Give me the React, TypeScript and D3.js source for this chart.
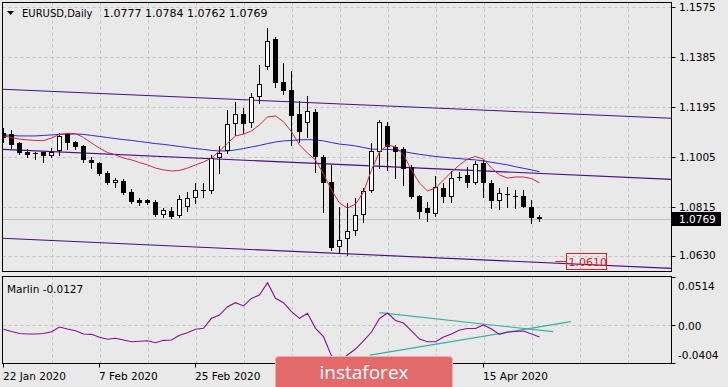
import { useMemo } from "react";
import * as d3 from "d3";

const WIDTH = 728;
const HEIGHT = 387;
const LEFT = 2.5;
const RIGHT = 671.5;
const MAIN_TOP = 2.5;
const MAIN_BOTTOM = 271.5;
const SUB_TOP = 276.5;
const SUB_BOTTOM = 363.5;
const FONT = "'DejaVu Sans', Verdana, sans-serif";

// EURUSD daily bars, 22 Jan 2020 .. 24 Apr 2020
const opens = [
  1.1096, 1.1092, 1.1057, 1.1025, 1.102, 1.1023, 1.1009, 1.1029, 1.1092, 1.1061,
  1.1047, 1.0994, 1.0981, 1.0944, 1.0906, 1.0914, 1.0873, 1.0842, 1.0842, 1.0835,
  1.0785, 1.08, 1.0781, 1.0814, 1.0848, 1.0876, 1.0877, 1.1, 1.1029, 1.1129,
  1.1167, 1.1133, 1.1234, 1.1348, 1.1453, 1.1291, 1.126, 1.1168, 1.1133, 1.1177,
  1.1006, 1.0909, 1.0662, 1.0692, 1.0724, 1.0785, 1.0877, 1.1025, 1.1121, 1.1044,
  1.1034, 1.0968, 1.0857, 1.0812, 1.0788, 1.0886, 1.0852, 1.093, 1.0937, 1.0907,
  1.0981, 1.0907, 1.0839, 1.0866, 1.0858, 1.0857, 1.0816, 1.0777,
];
const highs = [
  1.1115, 1.1108, 1.1063, 1.1035, 1.1025, 1.1025, 1.1039, 1.1095, 1.1097, 1.1067,
  1.1051, 1.1006, 1.0987, 1.0953, 1.0927, 1.0921, 1.0882, 1.0848, 1.0845, 1.0842,
  1.081, 1.0816, 1.0861, 1.0873, 1.0905, 1.0905, 1.1013, 1.1047, 1.1184, 1.1215,
  1.119, 1.1247, 1.1355, 1.1494, 1.146, 1.1363, 1.1333, 1.1218, 1.1237, 1.1186,
  1.1013, 1.0975, 1.0816, 1.0829, 1.0848, 1.0886, 1.1057, 1.1146, 1.1139, 1.1051,
  1.1044, 1.0975, 1.0861, 1.0835, 1.0933, 1.0907, 1.0953, 1.0949, 1.0968, 1.0991,
  1.0994, 1.0918, 1.0886, 1.089, 1.088, 1.088, 1.0842, 1.0784,
];
const lows = [
  1.1062, 1.1039, 1.1016, 1.1006, 1.0998, 1.0987, 1.1006, 1.1013, 1.1034, 1.1034,
  1.0987, 1.0962, 1.0937, 1.0902, 1.0891, 1.0864, 1.0829, 1.0823, 1.0826, 1.0781,
  1.0778, 1.0774, 1.0778, 1.0801, 1.0829, 1.0854, 1.0868, 1.0945, 1.1021, 1.1089,
  1.1095, 1.1118, 1.1209, 1.1338, 1.1272, 1.1244, 1.1051, 1.1063, 1.1082, 1.0949,
  1.0797, 1.0652, 1.0639, 1.0633, 1.0709, 1.0759, 1.0871, 1.0963, 1.0956, 1.0924,
  1.0899, 1.0848, 1.0772, 1.0763, 1.0781, 1.0835, 1.0835, 1.0918, 1.089, 1.0902,
  1.0852, 1.081, 1.0808, 1.0816, 1.081, 1.0814, 1.0756, 1.0762,
];
const closes = [
  1.1077, 1.1051, 1.1021, 1.1013, 1.1016, 1.1009, 1.1025, 1.1085, 1.1057, 1.1042,
  1.0994, 1.0981, 1.094, 1.0907, 1.0916, 1.0869, 1.0835, 1.0829, 1.0831, 1.0785,
  1.0804, 1.0778, 1.0844, 1.0848, 1.088, 1.0879, 1.1, 1.1021, 1.1129, 1.1167,
  1.1129, 1.1234, 1.1283, 1.1447, 1.1287, 1.1256, 1.1161, 1.1101, 1.118, 1.1004,
  1.0907, 1.0658, 1.069, 1.0724, 1.0785, 1.0877, 1.1028, 1.1139, 1.1044, 1.1025,
  1.0958, 1.0852, 1.0797, 1.0791, 1.089, 1.0852, 1.0924, 1.0929, 1.0907, 1.0978,
  1.0907, 1.0839, 1.0869, 1.0863, 1.0856, 1.0816, 1.0772, 1.0769,
];

const fastMa = [
  1.1085, 1.1079, 1.1073, 1.107, 1.1068, 1.1067, 1.1077, 1.1091, 1.1095, 1.1094,
  1.1079, 1.1058, 1.1039, 1.1022, 1.1013, 1.1001, 1.0994, 1.0984, 1.0975, 1.0963,
  1.0956, 1.0952, 1.0954, 1.0963, 1.0975, 1.0986, 1.1001, 1.1028, 1.1057, 1.1085,
  1.1092, 1.1104, 1.1127, 1.1157, 1.1161, 1.1139, 1.1101, 1.1051, 1.102, 1.0994,
  1.094, 1.088, 1.083, 1.0811, 1.0826, 1.0872, 1.0956, 1.1024, 1.1051, 1.1043,
  1.1013, 1.0956, 1.0906, 1.0876, 1.0887, 1.0918, 1.0948, 1.0975, 1.0997, 1.1007,
  1.0997, 1.0963, 1.0937, 1.0925, 1.0929, 1.0929, 1.0923, 1.0907,
];
const slowMa = [
  1.1089, 1.1087, 1.1085, 1.1085, 1.1085, 1.1087, 1.1089, 1.1091, 1.1092, 1.1092,
  1.1091, 1.1087, 1.1083, 1.1079, 1.1075, 1.1071, 1.1068, 1.1064, 1.106, 1.1056,
  1.1053, 1.1049, 1.1045, 1.1041, 1.1037, 1.1034, 1.103, 1.1028, 1.1028, 1.1032,
  1.1037, 1.1043, 1.1049, 1.1056, 1.1062, 1.1066, 1.1068, 1.107, 1.1071, 1.107,
  1.1066, 1.106, 1.1054, 1.1051, 1.1047, 1.1041, 1.1035, 1.1034, 1.1034, 1.1032,
  1.1026, 1.102, 1.1015, 1.1011, 1.1007, 1.1004, 1.1001, 1.0999, 1.0996, 1.0994,
  1.099, 1.0985, 1.098, 1.0975, 1.0968, 1.0962, 1.0956, 1.0949,
];
const marlin = [
  -0.0044, -0.0068, -0.0089, -0.0094, -0.0094, -0.0089, -0.007, -0.002, -0.0041, -0.0059,
  -0.0094, -0.0098, -0.013, -0.0151, -0.014, -0.0158, -0.0177, -0.0172, -0.0166, -0.0187,
  -0.0162, -0.0158, -0.0108, -0.0081, -0.0044, -0.0034, 0.0073, 0.0108, 0.0197, 0.024,
  0.0205, 0.0285, 0.0322, 0.0453, 0.0287, 0.024, 0.0144, 0.0073, 0.0127, -0.0034,
  -0.0123, -0.0329, -0.0383, -0.0319, -0.0255, -0.0169, -0.0073, 0.0071, 0.013, 0.005,
  0.0023, -0.0062, -0.0148, -0.0177, -0.0177, -0.0127, -0.0094, -0.0052, -0.0036, -0.0036,
  0.0002, -0.0041, -0.0098, -0.0073, -0.0068, -0.0062, -0.0094, -0.0127,
];

const priceTicks = [1.1575, 1.1385, 1.1195, 1.1005, 1.0815, 1.063];
const marlinTicks = [0.0514, 0, -0.0404];
const marlinTickLabels = ["0.0514", "0.00", "-0.0404"];
// labels for 12 Mar / 30 Mar sit under the watermark, so only their ticks are drawn
const dateTickIndex = [0, 12, 24, 36, 48, 60];
const dateTickLabels = ["22 Jan 2020", "7 Feb 2020", "25 Feb 2020", "", "", "15 Apr 2020"];
const gridIndex = [6, 12, 18, 24, 30, 36, 42, 48, 54, 60, 66, 72, 78];

// trend lines: [index1, value1, index2, value2]
const channelLines = [
  [0, 1.1262, 60, 1.1183],
  [0, 1.1034, 60, 1.0952],
  [0, 1.0696, 60, 1.0614],
];
const marlinLines = [
  [47, 0.0133, 68.7, -0.007],
  [45.8, -0.0319, 70.9, 0.0037],
];
const targetIndex = 69;
const targetPrice = 1.061;

const symbol = "EURUSD,Daily";
const lastBar = [1.0777, 1.0784, 1.0762, 1.0769];

function App() {
  const x = d3.scaleLinear().domain([0, 1]).range([3.5, 11.5]);
  const y = d3.scaleLinear().domain([1.057, 1.1592]).range([MAIN_BOTTOM, MAIN_TOP]);
  const ym = d3.scaleLinear().domain([-0.0404, 0.0514]).range([363, 277]);

  const fastPath = useMemo(
    () => d3.line<number>().x((d, i) => x(i)).y((d) => y(d))(fastMa),
    []
  );
  const slowPath = useMemo(
    () => d3.line<number>().x((d, i) => x(i)).y((d) => y(d))(slowMa),
    []
  );
  const marlinPath = d3.line<number>().x((d, i) => x(i)).y((d) => ym(d))(marlin);

  const extend = (ln: number[], sc: d3.ScaleLinear<number, number>) => {
    const [i1, v1, i2, v2] = ln;
    const slope = (v2 - v1) / (i2 - i1);
    const a = x.invert(LEFT);
    const b = x.invert(RIGHT);
    return { x1: LEFT, y1: sc(v1 + slope * (a - i1)), x2: RIGHT, y2: sc(v1 + slope * (b - i1)) };
  };

  const candles = closes.map((c, i) => {
    const o = opens[i];
    const cx = x(i);
    const yo = Math.round(y(o));
    const yc = Math.round(y(c));
    const top = Math.min(yo, yc);
    const bot = Math.max(yo, yc);
    const wick = (
      <line x1={cx} x2={cx} y1={Math.round(y(highs[i]))} y2={Math.round(y(lows[i])) + 1} stroke="#000" />
    );
    let body;
    if (bot - top < 2) {
      body = <line x1={cx - 2.5} x2={cx + 2.5} y1={top + 0.5} y2={top + 0.5} stroke="#000" />;
    } else if (c >= o) {
      body = <rect x={cx - 2} y={top + 0.5} width={4} height={bot - top - 1} fill="#fff" stroke="#000" />;
    } else {
      body = <rect x={cx - 2.5} y={top} width={5} height={bot - top} fill="#000" />;
    }
    return (
      <g key={i}>
        {wick}
        {body}
      </g>
    );
  });

  const lastY = Math.round(y(closes[closes.length - 1])) + 0.5;
  const tx = x(targetIndex);
  const ty = Math.round(y(targetPrice)) + 0.5;

  return (
    <svg
      width={WIDTH}
      height={HEIGHT}
      style={{ position: "absolute", left: 0, top: 0, background: "#e9e9e9" }}
      fontFamily={FONT}
    >
      <defs>
        <clipPath id="mainClip">
          <rect x={LEFT} y={MAIN_TOP} width={RIGHT - LEFT} height={MAIN_BOTTOM - MAIN_TOP} />
        </clipPath>
        <clipPath id="subClip">
          <rect x={LEFT} y={SUB_TOP} width={RIGHT - LEFT} height={SUB_BOTTOM - SUB_TOP} />
        </clipPath>
      </defs>
      <rect width={WIDTH} height={HEIGHT} fill="#e9e9e9" />

      {/* grid */}
      <g stroke="#c2c2c2" strokeDasharray="3,3">
        {gridIndex.map((g) => (
          <g key={g}>
            <line x1={Math.round(x(g)) + 0.5} x2={Math.round(x(g)) + 0.5} y1={MAIN_TOP} y2={MAIN_BOTTOM} />
            <line x1={Math.round(x(g)) + 0.5} x2={Math.round(x(g)) + 0.5} y1={SUB_TOP} y2={SUB_BOTTOM} />
          </g>
        ))}
        {priceTicks.map((p) => (
          <line key={p} x1={LEFT} x2={RIGHT} y1={Math.round(y(p)) + 0.5} y2={Math.round(y(p)) + 0.5} />
        ))}
        <line x1={LEFT} x2={RIGHT} y1={Math.round(ym(0)) + 0.5} y2={Math.round(ym(0)) + 0.5} />
      </g>

      {/* bid line */}
      <line x1={LEFT} x2={RIGHT} y1={lastY} y2={lastY} stroke="#c0c0c0" />

      <g clipPath="url(#mainClip)">
        {channelLines.map((ln, i) => (
          <line key={i} {...extend(ln, y)} stroke="#4b0c80" strokeWidth={1.1} />
        ))}
        <path d={slowPath ?? ""} fill="none" stroke="#2a2ac8" strokeWidth={1} />
        {candles}
        <path d={fastPath ?? ""} fill="none" stroke="#d02848" strokeWidth={1} />
        <line x1={tx} x2={tx + 11} y1={ty} y2={ty} stroke="#e02020" />
        <rect x={tx + 11} y={ty - 8} width={40} height={16} fill="none" stroke="#e02020" />
        <text x={tx + 13} y={ty + 4} fontSize={11} fill="#e02020">
          {targetPrice.toFixed(4)}
        </text>
      </g>

      <g clipPath="url(#subClip)">
        {marlinLines.map((ln, i) => {
          const [i1, v1, i2, v2] = ln;
          return <line key={i} x1={x(i1)} y1={ym(v1)} x2={x(i2)} y2={ym(v2)} stroke="#3aaea6" strokeWidth={1.2} />;
        })}
        <path d={marlinPath ?? ""} fill="none" stroke="#84148a" strokeWidth={1.1} />
      </g>

      {/* frames */}
      <rect x={LEFT} y={MAIN_TOP} width={RIGHT - LEFT} height={MAIN_BOTTOM - MAIN_TOP} fill="none" stroke="#000" />
      <rect x={LEFT} y={SUB_TOP} width={RIGHT - LEFT} height={SUB_BOTTOM - SUB_TOP} fill="none" stroke="#000" />

      {/* price axis */}
      {priceTicks.map((p) => (
        <g key={p}>
          <line x1={RIGHT} x2={RIGHT + 4} y1={Math.round(y(p)) + 0.5} y2={Math.round(y(p)) + 0.5} stroke="#000" />
          <text x={679} y={y(p)} dy="0.36em" fontSize={10.5} fill="#000">
            {p.toFixed(4)}
          </text>
        </g>
      ))}
      <rect x={RIGHT + 0.5} y={lastY - 7.5} width={49} height={14} fill="#000" />
      <text x={679} y={lastY} dy="0.36em" fontSize={10.5} fill="#fff">
        {closes[closes.length - 1].toFixed(4)}
      </text>

      {/* marlin axis */}
      {marlinTicks.map((v, i) => (
        <g key={v}>
          <line x1={RIGHT} x2={RIGHT + 4} y1={Math.round(ym(v)) + 0.5} y2={Math.round(ym(v)) + 0.5} stroke="#000" />
          <text
            x={678}
            y={i === 0 ? ym(v) + 9 : i === 2 ? ym(v) - 8 : ym(v) + 1}
            dy="0.36em"
            fontSize={10.5}
            fill="#000"
          >
            {marlinTickLabels[i]}
          </text>
        </g>
      ))}

      {/* time axis */}
      {dateTickIndex.map((d, i) => (
        <g key={d}>
          <line x1={x(d)} x2={x(d)} y1={SUB_BOTTOM} y2={SUB_BOTTOM + 4} stroke="#000" />
          {dateTickLabels[i] && (
            <text x={x(d) - 0.5} y={380} fontSize={10.5} fill="#000">
              {dateTickLabels[i]}
            </text>
          )}
        </g>
      ))}

      {/* titles */}
      <path d="M7,11 L14,11 L10.5,15 Z" fill="#000" />
      <text x={22} y={17} fontSize={10} fill="#000">
        {symbol}
        <tspan x={103} fontSize={11}>
          {lastBar.map((v) => v.toFixed(4)).join(" ")}
        </tspan>
      </text>
      <text x={7} y={293} fontSize={10.5} fill="#000">
        Marlin {marlin[marlin.length - 1].toFixed(4)}
      </text>

      {/* watermark */}
      <rect x={275.5} y={356.5} width={177} height={34} rx={3} fill="#e36a6a" stroke="#f2b0b0" />
      <text x={364} y={379} textAnchor="middle" fontSize={19} fill="#fff" fontFamily="'Open Sans', sans-serif">
        instaforex
      </text>
    </svg>
  );
}

export default App;
